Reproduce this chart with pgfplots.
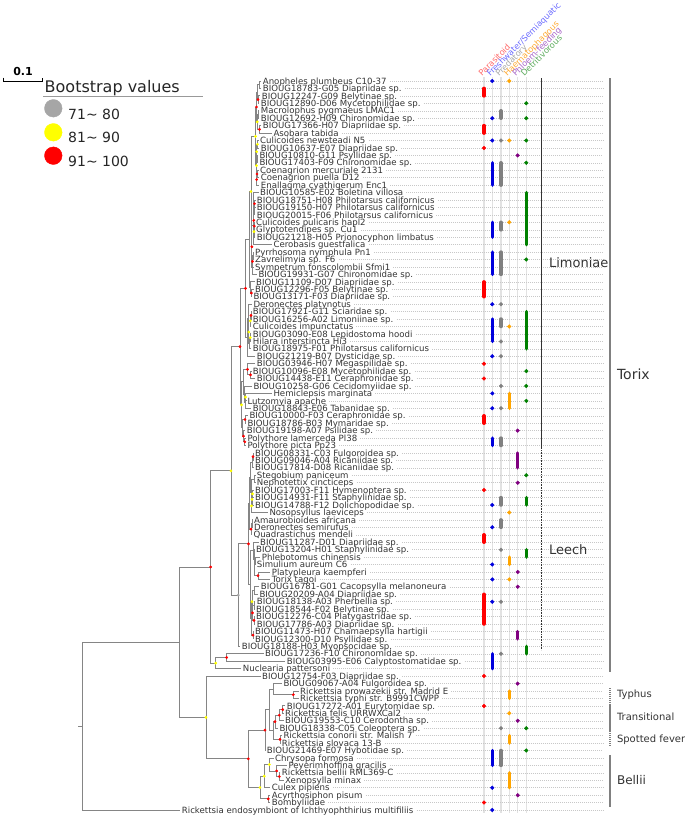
\documentclass[border=0pt]{standalone}
\usepackage{fontspec}
\setmainfont{DejaVu Sans}
\usepackage{pgfplots}
\pgfplotsset{compat=1.18}
\definecolor{treeg}{HTML}{858585}
\definecolor{txt}{HTML}{333333}
\definecolor{cpar}{HTML}{FF0000}
\definecolor{cfw}{HTML}{0000DD}
\definecolor{cpred}{HTML}{808080}
\definecolor{chae}{HTML}{FFA500}
\definecolor{cphl}{HTML}{800080}
\definecolor{cdet}{HTML}{008000}
\definecolor{bsgray}{HTML}{A6A6A6}
\definecolor{bsyel}{HTML}{FFFF00}
\definecolor{bsred}{HTML}{FF0000}
\definecolor{colline}{HTML}{E2E2E2}
\definecolor{guidec}{HTML}{C8C8C8}
\definecolor{hpar}{HTML}{FF6B6B}
\definecolor{hfw}{HTML}{6B6BFF}
\definecolor{hpred}{HTML}{A8A8A8}
\definecolor{hhae}{HTML}{FFAA33}
\definecolor{hphl}{HTML}{A866C8}
\definecolor{hdet}{HTML}{5CAA5C}
\tikzset{
  treeline/.style={treeg, line width=0.9pt},
  leaflab/.style={anchor=west, inner sep=0pt, text height=6.3pt, text depth=0pt, text=txt, font=\fontsize{8.6}{9}\selectfont},
  guide/.style={guidec, line width=0.5pt, dash pattern=on 0.8pt off 1.2pt},
  hlab/.style={anchor=base west, rotate=45, inner sep=0pt, font=\fontsize{8.3}{9}\selectfont}
}
\newcommand{\br}[5]{\addplot[treeline, mark=none] coordinates {(#1,#2) (#3,#2) (#3,#5) (#4,#5)};}
\newcommand{\leaf}[3]{\node[leaflab] (t) at (axis cs:#2,#1) {#3}; \draw[guide] ([xshift=3pt]t.east) -- (axis cs:603,#1);}
\newcommand{\tb}[4]{\addplot[#1, line width=3.5pt, line cap=round] coordinates {(#2,#3) (#2,#4)};}
\begin{document}
\begin{tikzpicture}
\begin{axis}[name=ax, scale only axis, width=685pt, height=817pt,
  xmin=0, xmax=685, ymin=0, ymax=817, y dir=reverse, hide axis, clip=false,
  tdot/.style={only marks, mark=*, mark size=1.85pt},
  bdot/.style={only marks, mark=*, mark size=1.2pt}]
% column lines
\addplot[colline, line width=1.1pt] coordinates {(484,77) (484,813)};
\addplot[colline, line width=1.1pt] coordinates {(492.3,77) (492.3,813)};
\addplot[colline, line width=1.1pt] coordinates {(501,77) (501,813)};
\addplot[colline, line width=1.1pt] coordinates {(509.3,77) (509.3,813)};
\addplot[colline, line width=1.1pt] coordinates {(517.7,77) (517.7,813)};
\addplot[colline, line width=1.1pt] coordinates {(526.3,77) (526.3,813)};
% leaves
\leaf{81.0}{262.7}{Anopheles plumbeus C10-37}
\leaf{88.4}{262.7}{BIOUG18783-G05 Diapriidae sp.}
\leaf{95.9}{261.7}{BIOUG12247-G09 Belytinae sp.}
\leaf{103.3}{260.7}{BIOUG12890-D06 Mycetophilidae sp.}
\leaf{110.8}{260.7}{Macrolophus pygmaeus LMAC1}
\leaf{118.2}{260.7}{BIOUG12692-H09 Chironomidae sp.}
\leaf{125.6}{262.7}{BIOUG17366-H07 Diapriidae sp.}
\leaf{133.1}{273.3}{Asobara tabida}
\leaf{140.5}{260.0}{Culicoides newsteadi N5}
\leaf{148.0}{260.7}{BIOUG10637-E07 Diapriidae sp.}
\leaf{155.4}{259.3}{BIOUG10810-G11 Psyllidae sp.}
\leaf{162.8}{259.3}{BIOUG17403-F09 Chironomidae sp.}
\leaf{170.3}{260.0}{Coenagrion mercuriale 2131}
\leaf{177.7}{260.7}{Coenagrion puella D12}
\leaf{185.1}{260.7}{Enallagma cyathigerum Enc1}
\leaf{192.6}{260.0}{BIOUG10585-E02 Boletina villosa}
\leaf{200.0}{256.7}{BIOUG18751-H08 Philotarsus californicus}
\leaf{207.5}{256.7}{BIOUG19150-H07 Philotarsus californicus}
\leaf{214.9}{256.7}{BIOUG20015-F06 Philotarsus californicus}
\leaf{222.3}{256.0}{Culicoides pulicaris hapl2}
\leaf{229.8}{256.0}{Glyptotendipes sp. Cu1}
\leaf{237.2}{256.7}{BIOUG21218-H05 Prionocyphon limbatus}
\leaf{244.7}{273.3}{Cerobasis guestfalica}
\leaf{252.1}{255.0}{Pyrrhosoma nymphula Pn1}
\leaf{259.5}{255.0}{Zavrelimyia sp. F6}
\leaf{267.0}{255.0}{Sympetrum fonscolombii Sfmi1}
\leaf{274.4}{258.3}{BIOUG19931-G07 Chironomidae sp.}
\leaf{281.9}{256.0}{BIOUG11109-D07 Diapriidae sp.}
\leaf{289.3}{255.0}{BIOUG12296-F05 Belytinae sp.}
\leaf{296.7}{253.3}{BIOUG13171-F03 Diapriidae sp.}
\leaf{304.2}{253.3}{Deronectes platynotus}
\leaf{311.6}{252.7}{BIOUG17921-G11 Sciaridae sp.}
\leaf{319.0}{252.7}{BIOUG16256-A02 Limoniinae sp.}
\leaf{326.5}{252.7}{Culicoides impunctatus}
\leaf{333.9}{252.7}{BIOUG03090-E08 Lepidostoma hoodi}
\leaf{341.4}{252.7}{Hilara interstincta Hi3}
\leaf{348.8}{252.7}{BIOUG18975-F01 Philotarsus californicus}
\leaf{356.2}{256.7}{BIOUG21219-B07 Dysticidae sp.}
\leaf{363.7}{256.7}{BIOUG03946-H07 Megaspilidae sp.}
\leaf{371.1}{252.7}{BIOUG10096-E08 Mycetophilidae sp.}
\leaf{378.6}{256.7}{BIOUG14438-E11 Ceraphronidae sp.}
\leaf{386.0}{253.3}{BIOUG10258-G06 Cecidomyiidae sp.}
\leaf{393.4}{273.3}{Hemiclepsis marginata}
\leaf{400.9}{247.3}{Lutzomyia apache}
\leaf{408.3}{252.7}{BIOUG18843-E06 Tabanidae sp.}
\leaf{415.8}{249.3}{BIOUG10000-F03 Ceraphronidae sp.}
\leaf{423.2}{247.3}{BIOUG18786-B03 Mymaridae sp.}
\leaf{430.6}{246.7}{BIOUG19198-A07 Psilidae sp.}
\leaf{438.1}{247.3}{Polythore lamerceda Pl38}
\leaf{445.5}{247.3}{Polythore picta Pp23}
\leaf{453.0}{255.0}{BIOUG08331-C03 Fulgoroidea sp.}
\leaf{460.4}{255.0}{BIOUG09046-A04 Ricaniidae sp.}
\leaf{467.8}{255.0}{BIOUG17814-D08 Ricaniidae sp.}
\leaf{475.3}{256.7}{Stegobium paniceum}
\leaf{482.7}{256.7}{Nephotettix cincticeps}
\leaf{490.1}{255.0}{BIOUG17003-F11 Hymenoptera sp.}
\leaf{497.6}{255.0}{BIOUG14931-F11 Staphylinidae sp.}
\leaf{505.0}{255.0}{BIOUG14788-F12 Dolichopodidae sp.}
\leaf{512.5}{269.3}{Nosopsyllus laeviceps}
\leaf{519.9}{254.0}{Amaurobioides africana}
\leaf{527.3}{254.0}{Deronectes semirufus}
\leaf{534.8}{253.3}{Quadrastichus mendeli}
\leaf{542.2}{260.0}{BIOUG11287-D01 Diapriidae sp.}
\leaf{549.7}{256.0}{BIOUG13204-H01 Staphylinidae sp.}
\leaf{557.1}{261.7}{Phlebotomus chinensis}
\leaf{564.5}{256.7}{Simulium aureum C6}
\leaf{572.0}{271.7}{Platypleura kaempferi}
\leaf{579.4}{271.7}{Torix tagoi}
\leaf{586.8}{260.7}{BIOUG16781-G01 Cacopsylla melanoneura}
\leaf{594.3}{259.3}{BIOUG20209-A04 Diapriidae sp.}
\leaf{601.7}{256.7}{BIOUG18138-A03 Pherbellia sp.}
\leaf{609.2}{256.0}{BIOUG18544-F02 Belytinae sp.}
\leaf{616.6}{256.0}{BIOUG12276-C04 Platygastridae sp.}
\leaf{624.0}{256.7}{BIOUG17786-A03 Diapriidae sp.}
\leaf{631.5}{255.0}{BIOUG11473-H07 Chamaepsylla hartigii}
\leaf{638.9}{255.0}{BIOUG12300-D10 Psyllidae sp.}
\leaf{646.4}{241.7}{BIOUG18188-H03 Myopsocidae sp.}
\leaf{653.8}{265.0}{BIOUG17236-F10 Chironomidae sp.}
\leaf{661.2}{286.7}{BIOUG03995-E06 Calyptostomatidae sp.}
\leaf{668.7}{242.7}{Nuclearia pattersoni}
\leaf{676.1}{262.0}{BIOUG12754-F03 Diapriidae sp.}
\leaf{683.6}{283.3}{BIOUG09067-A04 Fulgoroidea sp.}
\leaf{691.0}{300.0}{Rickettsia prowazekii str. Madrid E}
\leaf{698.4}{300.0}{Rickettsia typhi str. B9991CWPP}
\leaf{705.9}{286.7}{BIOUG17272-A01 Eurytomidae sp.}
\leaf{713.3}{285.0}{Rickettsia felis URRWXCal2}
\leaf{720.8}{285.0}{BIOUG19553-C10 Cerodontha sp.}
\leaf{728.2}{279.3}{BIOUG18338-C05 Coleoptera sp.}
\leaf{735.6}{283.3}{Rickettsia conorii str. Malish 7}
\leaf{743.1}{281.7}{Rickettsia slovaca 13-B}
\leaf{750.5}{266.7}{BIOUG21469-E07 Hybotidae sp.}
\leaf{758.0}{275.0}{Chrysopa formosa}
\leaf{765.4}{288.3}{Peyerimhoffina gracilis}
\leaf{772.8}{281.7}{Rickettsia bellii RML369-C}
\leaf{780.3}{285.0}{Xenopsylla minax}
\leaf{787.7}{271.7}{Culex pipiens}
\leaf{795.2}{271.7}{Acyrthosiphon pisum}
\leaf{802.6}{271.7}{Bombyliidae}
\leaf{810.0}{181.7}{Rickettsia endosymbiont of Ichthyophthirius multifiliis}
% trait bars
\tb{cpar}{484}{88.4}{95.9}
\tb{cpar}{484}{125.6}{133.1}
\tb{cpar}{484}{281.9}{296.7}
\tb{cpar}{484}{415.8}{423.2}
\tb{cpar}{484}{534.8}{542.2}
\tb{cpar}{484}{594.3}{624.0}
\tb{cfw}{492.3}{162.8}{185.1}
\tb{cfw}{492.3}{222.3}{237.2}
\tb{cfw}{492.3}{252.1}{274.4}
\tb{cfw}{492.3}{319.0}{341.4}
\tb{cfw}{492.3}{438.1}{445.5}
\tb{cfw}{492.3}{653.8}{668.7}
\tb{cfw}{492.3}{750.5}{765.4}
\tb{cpred}{501}{110.8}{118.2}
\tb{cpred}{501}{162.8}{185.1}
\tb{cpred}{501}{222.3}{229.8}
\tb{cpred}{501}{252.1}{274.4}
\tb{cpred}{501}{319.0}{326.5}
\tb{cpred}{501}{438.1}{445.5}
\tb{cpred}{501}{497.6}{505.0}
\tb{cpred}{501}{519.9}{527.3}
\tb{cpred}{501}{750.5}{765.4}
\tb{chae}{509.3}{393.4}{408.3}
\tb{chae}{509.3}{557.1}{564.5}
\tb{chae}{509.3}{691.0}{698.4}
\tb{chae}{509.3}{735.6}{743.1}
\tb{chae}{509.3}{772.8}{787.7}
\tb{cphl}{517.7}{453.0}{467.8}
\tb{cphl}{517.7}{631.5}{638.9}
\tb{cdet}{526.3}{192.6}{244.7}
\tb{cdet}{526.3}{311.6}{348.8}
\tb{cdet}{526.3}{497.6}{505.0}
\tb{cdet}{526.3}{549.7}{557.1}
\tb{cdet}{526.3}{646.4}{653.8}
% trait dots
\addplot[tdot, cpar] coordinates {(484,148.0) (484,363.7) (484,378.6) (484,490.1) (484,676.1) (484,705.9) (484,802.6)};
\addplot[tdot, cfw] coordinates {(492.3,81.0) (492.3,118.2) (492.3,140.5) (492.3,304.2) (492.3,356.2) (492.3,393.4) (492.3,408.3) (492.3,505.0) (492.3,527.3) (492.3,564.5) (492.3,579.4) (492.3,601.7) (492.3,787.7) (492.3,810.0)};
\addplot[tdot, cpred] coordinates {(501,140.5) (501,304.2) (501,341.4) (501,356.2) (501,386.0) (501,408.3) (501,549.7) (501,601.7) (501,653.8) (501,728.2)};
\addplot[tdot, chae] coordinates {(509.3,81.0) (509.3,140.5) (509.3,222.3) (509.3,326.5) (509.3,512.5) (509.3,579.4) (509.3,713.3)};
\addplot[tdot, cphl] coordinates {(517.7,155.4) (517.7,430.6) (517.7,482.7) (517.7,572.0) (517.7,586.8) (517.7,683.6) (517.7,720.8) (517.7,795.2)};
\addplot[tdot, cdet] coordinates {(526.3,103.3) (526.3,118.2) (526.3,140.5) (526.3,162.8) (526.3,259.5) (526.3,371.1) (526.3,386.0) (526.3,400.9) (526.3,475.3) (526.3,728.2) (526.3,750.5)};
% tree
\br{261.2}{81.0}{259}{261.2}{88.4}
\br{260.2}{95.9}{258}{259.2}{103.3}
\br{259}{84.7}{257.5}{258}{99.6}
\br{259.2}{110.8}{258}{259.2}{118.2}
\br{261.2}{125.6}{259.5}{271.8}{133.1}
\br{258}{114.5}{257.3}{259.5}{129.35}
\br{257.5}{92.15}{256.5}{257.3}{121.9}
\br{258.5}{140.5}{257.5}{259.2}{148.0}
\br{257.8}{155.4}{257.3}{257.8}{162.8}
\br{257.5}{144.25}{256.7}{257.3}{159.1}
\br{258.5}{170.3}{257}{259.2}{177.7}
\br{257}{174.0}{256.7}{259.2}{185.1}
\br{256.7}{151.7}{256.5}{256.7}{179.55}
\br{256.5}{107.0}{255.5}{256.5}{165.6}
\br{255.2}{200.0}{254.5}{255.2}{207.5}
\br{254.5}{203.75}{254.2}{255.2}{214.9}
\br{254.5}{222.3}{254.3}{254.5}{229.8}
\br{254.3}{226.05}{254}{255.2}{237.2}
\br{254.2}{209.3}{253.8}{254}{231.6}
\br{258.5}{192.6}{253.5}{253.8}{220.45}
\br{253.5}{206.5}{253.2}{271.8}{244.7}
\br{253.5}{252.1}{253}{253.5}{259.5}
\br{253}{255.8}{252.5}{253.5}{267.0}
\br{252.5}{261.4}{252}{256.8}{274.4}
\br{253.2}{225.6}{251.8}{252}{267.9}
\br{255.5}{136.3}{251}{251.8}{246.75}
\br{253.5}{289.3}{251.3}{251.8}{296.7}
\br{254.5}{281.9}{250.5}{251.3}{293.0}
\br{251}{191.5}{249.5}{250.5}{287.45}
\br{251.2}{311.6}{251}{251.2}{319.0}
\br{251}{315.3}{250.3}{251.2}{326.5}
\br{251.2}{333.9}{250.3}{251.2}{341.4}
\br{250.3}{337.65}{249.5}{251.2}{348.8}
\br{250.3}{320.9}{248.8}{249.5}{343.2}
\br{251.8}{304.2}{248}{248.8}{332.05}
\br{248}{318.1}{247}{255.2}{356.2}
\br{249.5}{239.5}{245.5}{247}{337.15}
\br{251.2}{371.1}{250.5}{255.2}{378.6}
\br{255.2}{363.7}{247.5}{250.5}{374.85}
\br{271.8}{393.4}{245.5}{245.8}{400.9}
\br{245.5}{397.15}{245}{251.2}{408.3}
\br{251.8}{386.0}{244.5}{245}{402.7}
\br{247.8}{415.8}{245}{245.8}{423.2}
\br{245.8}{438.1}{244.8}{245.8}{445.5}
\br{245.2}{430.6}{243.5}{244.8}{441.8}
\br{245}{419.5}{242.5}{243.5}{436.2}
\br{247.5}{369.3}{243}{244.5}{394.35}
\br{243}{381.8}{241.5}{242.5}{427.85}
\br{245.5}{288.3}{240}{241.5}{404.8}
\br{253.5}{453.0}{253}{253.5}{460.4}
\br{253}{456.7}{252.5}{253.5}{467.8}
\br{255.2}{475.3}{254.5}{255.2}{482.7}
\br{253.5}{490.1}{252.5}{253.5}{497.6}
\br{252.5}{493.85}{252}{253.5}{505.0}
\br{252}{499.4}{251.5}{267.8}{512.5}
\br{254.5}{479.0}{251}{251.5}{505.95}
\br{252.5}{462.25}{250.5}{251}{492.45}
\br{252.5}{519.9}{252}{252.5}{527.3}
\br{252}{523.6}{251}{251.8}{534.8}
\br{250.5}{477.35}{249.8}{251}{529.2}
\br{270.2}{572.0}{258}{270.2}{579.4}
\br{260.2}{557.1}{255}{255.2}{564.5}
\br{255}{560.8}{254.5}{258}{575.7}
\br{254.5}{549.7}{254}{254.5}{568.25}
\br{258.5}{542.2}{253.5}{254}{558.95}
\br{259.2}{586.8}{254}{257.8}{594.3}
\br{255.2}{601.7}{254}{254.5}{609.2}
\br{254.5}{616.6}{254}{255.2}{624.0}
\br{254}{605.45}{252.5}{254}{620.3}
\br{254}{590.55}{252}{252.5}{612.9}
\br{253.5}{631.5}{253}{253.5}{638.9}
\br{252}{601.7}{251}{253}{635.2}
\br{253.5}{550.6}{250.5}{251}{618.45}
\br{249.8}{503.3}{248.5}{250.5}{584.5}
\br{248.5}{543.9}{238.3}{240.2}{646.4}
\br{240}{346.55}{231}{238.3}{595.15}
\br{263.5}{653.8}{226.7}{285.2}{661.2}
\br{226.7}{657.5}{215.7}{241.2}{668.7}
\br{231}{470.85}{210.7}{215.7}{663.1}
\br{298.5}{691.0}{293.3}{298.5}{698.4}
\br{281.8}{683.6}{273}{293.3}{694.7}
\br{285.2}{705.9}{282.7}{283.5}{713.3}
\br{282.7}{709.6}{279.3}{283.5}{720.8}
\br{279.3}{715.2}{275}{277.8}{728.2}
\br{281.8}{735.6}{280}{280.2}{743.1}
\br{275}{721.7}{273}{280}{739.35}
\br{273}{689.15}{269}{273}{730.5}
\br{269}{709.8}{265}{265.2}{750.5}
\br{280.2}{772.8}{279.3}{283.5}{780.3}
\br{286.8}{765.4}{276.7}{279.3}{776.55}
\br{273.5}{758.0}{269.3}{276.7}{770.95}
\br{269.3}{764.5}{264.3}{270.2}{787.7}
\br{270.2}{795.2}{268.3}{270.2}{802.6}
\br{264.3}{776.1}{260}{268.3}{798.9}
\br{265}{730.15}{248.3}{260}{787.5}
\br{260.5}{676.1}{206}{248.3}{758.8}
\br{210.7}{566.98}{179.3}{206}{717.45}
\br{179.3}{642.2}{82.3}{180.2}{810.0}
\addplot[treeline, mark=none] coordinates {(78,726.1) (82.3,726.1)};
% bootstrap dots
\addplot[bdot, bsred] coordinates {(258,99.6) (256.5,107.0) (259.5,129.35) (257,174.0) (256.7,179.55) (254.5,203.75) (253.8,220.45) (254.3,226.05) (251.8,246.75) (252.5,261.4) (251.3,293.0) (245.5,288.3) (251,315.3) (240,346.55) (247.5,369.3) (250.5,374.85) (245,419.5) (243.5,436.2) (244.8,441.8) (253,456.7) (251,529.2) (258,575.7) (248.5,543.9) (252.5,612.9) (254,620.3) (253,635.2) (226.7,657.5) (210.7,566.98) (293.3,694.7) (282.7,709.6) (279.3,715.2) (275,721.7) (280,739.35) (265,730.15) (279.3,776.55) (276.7,770.95) (268.3,798.9) (248.3,758.8)};
\addplot[bdot, bsyel] coordinates {(257.3,121.9) (255.5,136.3) (257.5,144.25) (256.7,151.7) (256.5,165.6) (251,191.5) (254,231.6) (250.3,320.9) (248.8,332.05) (250.3,337.65) (245.5,397.15) (241.5,404.8) (252.5,493.85) (252,499.4) (251.5,505.95) (252,601.7) (231,470.85) (215.7,663.1) (269.3,764.5) (264.3,776.1) (260,787.5) (206,717.45)};
\addplot[bdot, bsgray] coordinates {(238.3,595.15)};
% clade brackets
\addplot[black!80, line width=1pt] coordinates {(541.5,78) (541.5,449)};
\addplot[black!80, line width=0.8pt, dash pattern=on 0.8pt off 0.8pt] coordinates {(541.5,450) (541.5,650)};
\addplot[cpred, line width=1.8pt] coordinates {(610,78) (610,672)};
\addplot[cpred, line width=1.6pt, dash pattern=on 1pt off 1pt] coordinates {(610,688) (610,703)};
\addplot[cpred, line width=1.6pt] coordinates {(610,704) (610,732)};
\addplot[cpred, line width=1.6pt, dash pattern=on 1pt off 1pt] coordinates {(610,733) (610,747)};
\addplot[cpred, line width=1.6pt] coordinates {(610,755) (610,807)};
\node[anchor=west, text=txt, font=\fontsize{13}{13}\selectfont] at (axis cs:545.5,263) {Limoniae};
\node[anchor=west, text=txt, font=\fontsize{13}{13}\selectfont] at (axis cs:545.5,549.5) {Leech};
\node[anchor=west, text=txt, font=\fontsize{14}{14}\selectfont] at (axis cs:613.5,374.5) {Torix};
\node[anchor=west, text=txt, font=\fontsize{10}{10}\selectfont] at (axis cs:613.5,695) {Typhus};
\node[anchor=west, text=txt, font=\fontsize{10}{10}\selectfont] at (axis cs:613.5,717) {Transitional};
\node[anchor=west, text=txt, font=\fontsize{10}{10}\selectfont] at (axis cs:613.5,739.5) {Spotted fever};
\node[anchor=west, text=txt, font=\fontsize{12}{12}\selectfont] at (axis cs:613.5,780) {Bellii};
% header labels
\node[hlab, text=hpar] at (axis cs:482,77) {Parasitoid};
\node[hlab, text=hfw] at (axis cs:490.3,77) {Freshwater/Semiaquatic};
\node[hlab, text=hpred] at (axis cs:499,77) {Predatory};
\node[hlab, text=hhae] at (axis cs:507.3,77) {Haematophagous};
\node[hlab, text=hphl] at (axis cs:515.7,77) {Phloem-feeding};
\node[hlab, text=hdet] at (axis cs:524.3,77) {Detritivorous};
% legend
\addplot[black, line width=1pt] coordinates {(3,77.5) (3,81) (42.7,81) (42.7,77.5)};
\node[text=black, font=\bfseries\fontsize{11}{11}\selectfont] at (axis cs:23,71.5) {0.1};
\node[anchor=west, inner sep=0pt, text=black!85, font=\fontsize{16}{16}\selectfont] at (axis cs:44.5,88.5) {Bootstrap values};
\addplot[gray!80, line width=1pt] coordinates {(43,96) (203,96)};
\addplot[only marks, mark=*, mark size=8.8pt, bsgray] coordinates {(53.3,108.3)};
\addplot[only marks, mark=*, mark size=8.8pt, bsyel] coordinates {(53.3,132.3)};
\addplot[only marks, mark=*, mark size=8.8pt, bsred] coordinates {(53.3,155.7)};
\node[anchor=west, inner sep=0pt, text=black!85, font=\fontsize{14}{14}\selectfont] at (axis cs:68,114.5) {71\textasciitilde\ 80};
\node[anchor=west, inner sep=0pt, text=black!85, font=\fontsize{14}{14}\selectfont] at (axis cs:68,137) {81\textasciitilde\ 90};
\node[anchor=west, inner sep=0pt, text=black!85, font=\fontsize{14}{14}\selectfont] at (axis cs:68,161) {91\textasciitilde\ 100};
\end{axis}
\pgfresetboundingbox
\useasboundingbox (ax.south west) rectangle (ax.north east);
\end{tikzpicture}
\end{document}
